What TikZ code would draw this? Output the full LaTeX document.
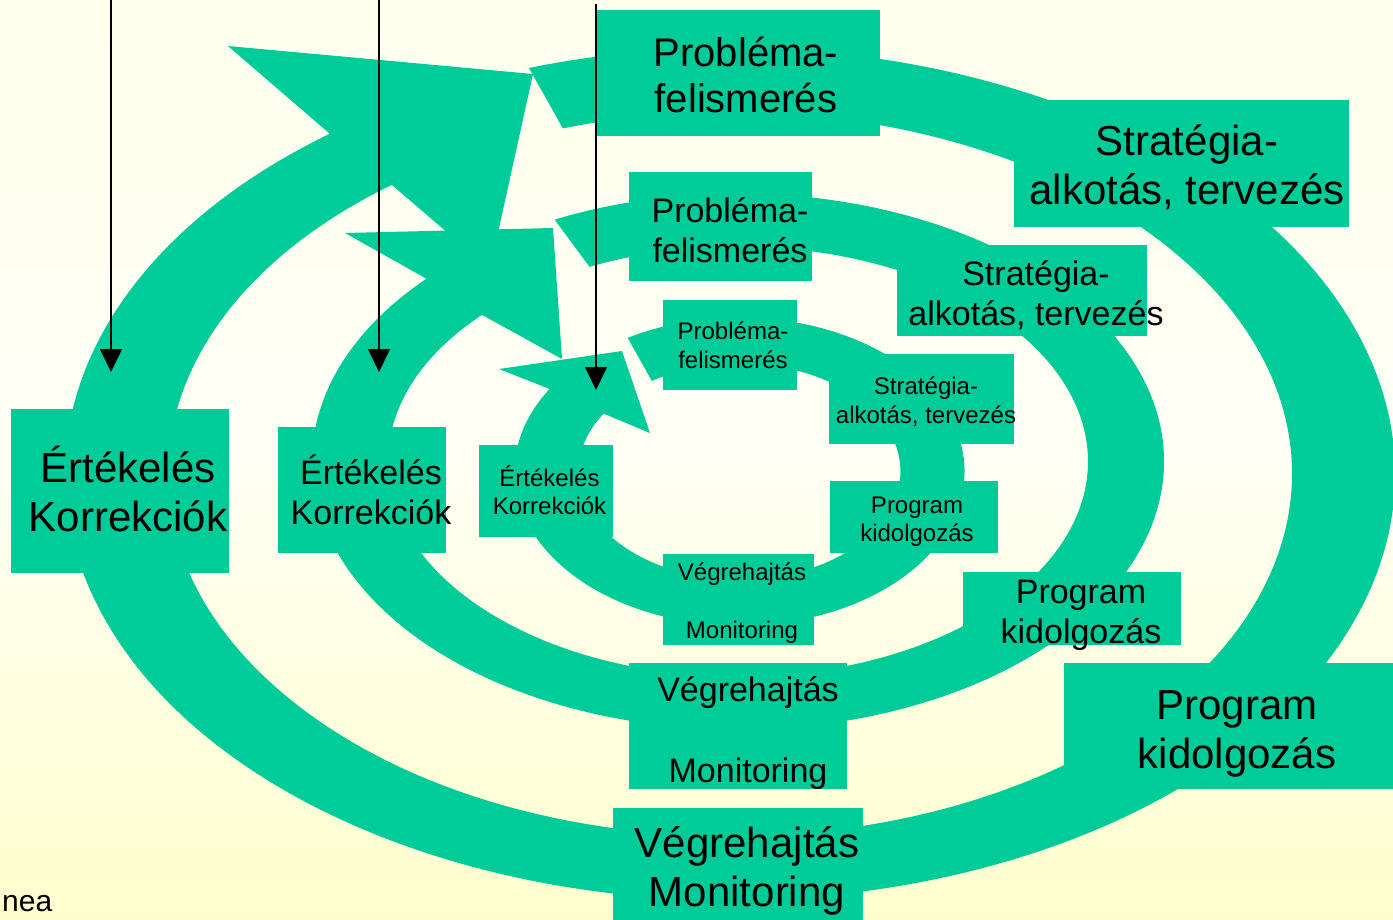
\documentclass[tikz,border=0pt]{standalone}
\usepackage{fontspec}
\setmainfont{Liberation Sans}
\usetikzlibrary{calc,arrows.meta}
\definecolor{bandgreen}{HTML}{00CC99}
\definecolor{bgtop}{HTML}{FFFFE8}
\definecolor{bgmid}{HTML}{FFFFF4}
\definecolor{bglow}{HTML}{FFFFCC}
\definecolor{bgbot}{HTML}{FFFF99}
\pgfdeclareverticalshading{backdrop}{100bp}{color(0bp)=(bgbot); color(24bp)=(bglow); color(50bp)=(bgmid); color(100bp)=(bgtop)}
% two-line stage label; the phantoms give every label the same top and bottom
\newcommand{\stagetext}[3][0pt]{\vphantom{É}#2\\[#1]#3\vphantom{g}}
\begin{document}
\begin{tikzpicture}[x=1pt,y=-1pt,
  band/.style={fill=bandgreen},
  stagebox/.style={fill=bandgreen, inner sep=0pt, outer sep=0pt, anchor=north west},
  stagelbl/.style={align=center, inner sep=0pt, text=black},
  lblL/.style={stagelbl, font=\fontsize{42}{49}\selectfont},
  lblLp/.style={stagelbl, font=\fontsize{40}{46}\selectfont},
  lblM/.style={stagelbl, font=\fontsize{34}{40}\selectfont},
  lblS/.style={stagelbl, font=\fontsize{24}{28.5}\selectfont},
  feed/.style={line width=1.6pt, -{Triangle[width=22pt,length=23pt]}}
]
\useasboundingbox (0,0) rectangle (1393,919);
\shade[shading=backdrop] (0,0) rectangle (1393,919);

% ---- outer cycle ----
\coordinate (oc) at (730,474);
\fill[band] ($(oc)+(-107.6:665 and 426)$)
    arc[start angle=-107.6, end angle=233, x radius=665, y radius=426]
    -- (228,46) -- (533,74) -- (490,269)
    -- ($(oc)+(233:562 and 362)$)
    arc[start angle=233, end angle=-107.3, x radius=562, y radius=362] -- cycle;

% ---- middle cycle ----
\coordinate (mc) at (738,461.5);
\fill[band] ($(mc)+(-115.5:426 and 268)$)
    arc[start angle=-115.5, end angle=223, x radius=426, y radius=268]
    -- (345,233) -- (553,228) -- (562,359)
    -- ($(mc)+(223:350 and 215)$)
    arc[start angle=223, end angle=-115.1, x radius=350, y radius=215] -- cycle;

% ---- inner cycle ----
\coordinate (ic) at (739.5,471.5);
\fill[band] ($(ic)+(-119.8:225 and 154)$)
    arc[start angle=-119.8, end angle=212.4, x radius=225, y radius=154]
    -- (499,369) -- (622,351) -- (650,433)
    -- ($(ic)+(212.4:161 and 108)$)
    arc[start angle=212.4, end angle=-123, x radius=161, y radius=108] -- cycle;

% ---- stage boxes, outer cycle ----
\node[stagebox, minimum width=283pt, minimum height=126pt] (o-prob) at (597,10) {};
\node[stagebox, minimum width=335pt, minimum height=127pt] (o-strat) at (1014,100) {};
\node[stagebox, minimum width=340pt, minimum height=126pt] (o-prog) at (1064,663) {};
\node[stagebox, minimum width=250pt, minimum height=120pt] (o-vegr) at (613,808) {};
\node[stagebox, minimum width=218pt, minimum height=164pt] (o-ert) at (11,409) {};

% ---- stage boxes, middle cycle ----
\node[stagebox, minimum width=183pt, minimum height=109pt] (m-prob) at (629,172) {};
\node[stagebox, minimum width=250pt, minimum height=91pt] (m-strat) at (897,245) {};
\node[stagebox, minimum width=218pt, minimum height=73pt] (m-prog) at (963,572) {};
\node[stagebox, minimum width=218pt, minimum height=126pt] (m-vegr) at (629,663) {};
\node[stagebox, minimum width=168pt, minimum height=126pt] (m-ert) at (278,427) {};

% ---- stage boxes, inner cycle ----
\node[stagebox, minimum width=134pt, minimum height=90pt] (i-prob) at (663,300) {};
\node[stagebox, minimum width=185pt, minimum height=90pt] (i-strat) at (829,354) {};
\node[stagebox, minimum width=168pt, minimum height=72pt] (i-prog) at (830,481) {};
\node[stagebox, minimum width=151pt, minimum height=91pt] (i-vegr) at (663,554) {};
\node[stagebox, minimum width=134pt, minimum height=92pt] (i-ert) at (479,445) {};

% ---- labels ----
\node[lblLp] (o-prob-t) at (746,76) {\stagetext{Probléma-}{felismerés}};
\node[lblL] (o-strat-t) at (1187,166) {\stagetext{Stratégia-}{alkotás, tervezés}};
\node[lblL] (o-prog-t) at (1237,730) {\stagetext{Program}{kidolgozás}};
\node[lblL] (o-vegr-t) at (747,868) {\stagetext{Végrehajtás}{Monitoring}};
\node[lblL] (o-ert-t) at (128,493) {\stagetext{Értékelés}{Korrekciók}};

\node[lblM] (m-prob-t) at (730,231) {\stagetext{Probléma-}{felismerés}};
\node[lblM] (m-strat-t) at (1036,294) {\stagetext{Stratégia-}{alkotás, tervezés}};
\node[lblM] (m-prog-t) at (1081,612) {\stagetext{Program}{kidolgozás}};
\node[lblM] (m-vegr-t) at (748,730.5) {\stagetext[41pt]{Végrehajtás}{Monitoring}};
\node[lblM] (m-ert-t) at (371,493) {\stagetext{Értékelés}{Korrekciók}};

\node[lblS] (i-prob-t) at (733,346) {\stagetext{Probléma-}{felismerés}};
\node[lblS] (i-strat-t) at (926,401) {\stagetext{Stratégia-}{alkotás, tervezés}};
\node[lblS] (i-prog-t) at (917,519.5) {\stagetext{Program}{kidolgozás}};
\node[lblS] (i-vegr-t) at (742,601.5) {\stagetext[30pt]{Végrehajtás}{Monitoring}};
\node[lblS] (i-ert-t) at (549.5,492.5) {\stagetext{Értékelés}{Korrekciók}};

% ---- feedback arrows ----
\coordinate (f1s) at (111,-2);  \coordinate (f1e) at (111,372);
\coordinate (f2s) at (379,-2);  \coordinate (f2e) at (379,372);
\coordinate (f3s) at (596,4);   \coordinate (f3e) at (596,390);
\draw[feed] (f1s) -- (f1e);
\draw[feed] (f2s) -- (f2e);
\draw[feed] (f3s) -- (f3e);

% ---- footer text ----
\node[anchor=base west, inner sep=0pt, font=\fontsize{30}{36}\selectfont] (foot) at (2,911) {nea};
\end{tikzpicture}
\end{document}
